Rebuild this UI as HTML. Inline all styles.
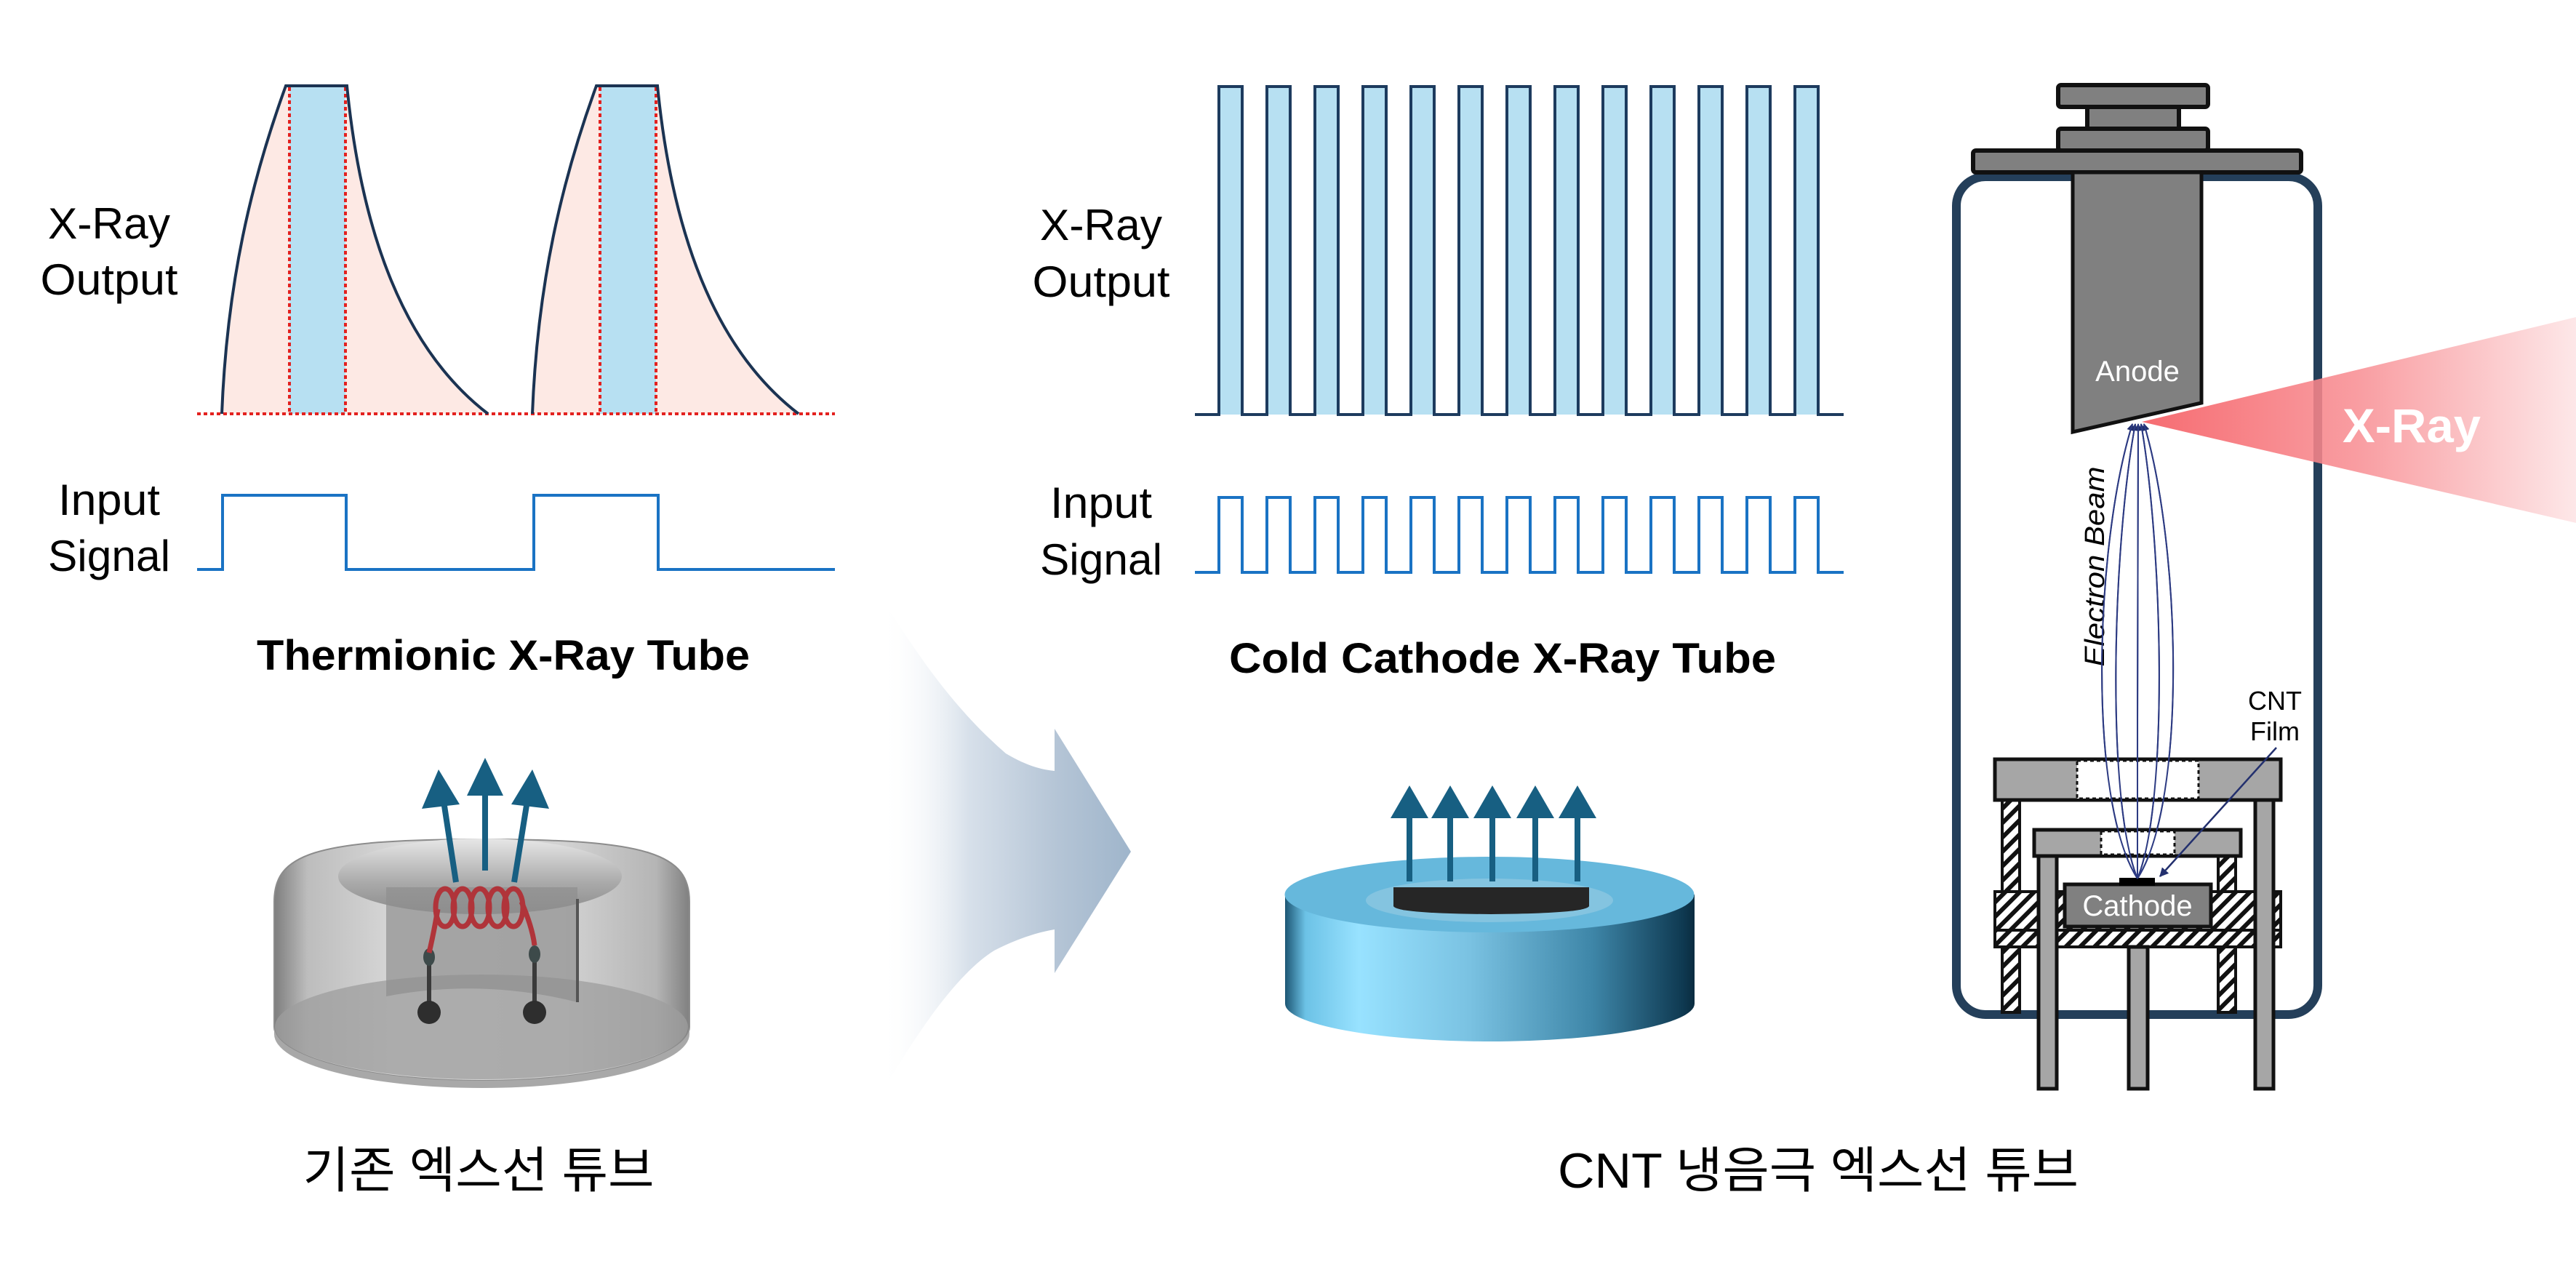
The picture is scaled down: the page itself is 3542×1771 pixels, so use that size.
<!DOCTYPE html>
<html><head><meta charset="utf-8">
<style>
html,body{margin:0;padding:0;background:#fff;}
svg{display:block;}
text{font-family:"Liberation Sans","Noto Sans CJK KR",sans-serif;}
</style></head>
<body>
<svg width="3542" height="1771" viewBox="0 0 3542 1771" xmlns="http://www.w3.org/2000/svg">
<defs>
  <linearGradient id="chev" x1="1212" y1="0" x2="1555" y2="0" gradientUnits="userSpaceOnUse">
    <stop offset="0" stop-color="#ffffff" stop-opacity="0"/>
    <stop offset="0.35" stop-color="#d7e0ea"/>
    <stop offset="0.7" stop-color="#b5c5d6"/>
    <stop offset="1" stop-color="#9fb5cb"/>
  </linearGradient>
  <linearGradient id="disk" x1="1767" y1="0" x2="2330" y2="0" gradientUnits="userSpaceOnUse">
    <stop offset="0" stop-color="#1d5674"/>
    <stop offset="0.05" stop-color="#6cc2e6"/>
    <stop offset="0.18" stop-color="#98e2ff"/>
    <stop offset="0.45" stop-color="#7ac2e2"/>
    <stop offset="0.75" stop-color="#3e86a8"/>
    <stop offset="0.97" stop-color="#0f3a52"/>
    <stop offset="1" stop-color="#0a2c40"/>
  </linearGradient>
  <linearGradient id="xray" x1="2945" y1="0" x2="3542" y2="0" gradientUnits="userSpaceOnUse">
    <stop offset="0" stop-color="#f5585e"/>
    <stop offset="0.5" stop-color="#f89095"/>
    <stop offset="1" stop-color="#fde4e5"/>
  </linearGradient>
  <linearGradient id="glass" x1="377" y1="0" x2="948" y2="0" gradientUnits="userSpaceOnUse">
    <stop offset="0" stop-color="#7e7e7e"/>
    <stop offset="0.08" stop-color="#bdbdbd"/>
    <stop offset="0.3" stop-color="#d8d8d8"/>
    <stop offset="0.7" stop-color="#d2d2d2"/>
    <stop offset="0.92" stop-color="#b5b5b5"/>
    <stop offset="1" stop-color="#808080"/>
  </linearGradient>
  <linearGradient id="opening" x1="0" y1="1154" x2="0" y2="1257" gradientUnits="userSpaceOnUse">
    <stop offset="0" stop-color="#e6e6e6"/>
    <stop offset="0.6" stop-color="#a8a8a8"/>
    <stop offset="1" stop-color="#8c8c8c"/>
  </linearGradient>
  <pattern id="hatch" width="14" height="14" patternUnits="userSpaceOnUse" patternTransform="rotate(45)">
    <rect width="14" height="14" fill="#fff"/>
    <rect width="6" height="14" fill="#111"/>
  </pattern>
  <marker id="ah" viewBox="0 0 10 10" refX="9" refY="5" markerWidth="5" markerHeight="5" orient="auto">
    <path d="M0,0 L10,5 L0,10 z" fill="#23306e"/>
  </marker>
</defs>

<!-- LEFT CHART -->
<g>
  <path d="M305,569 C312,390 345,250 393,118 L477,118 C497,320 555,480 671,569 Z" fill="#fde9e4"/>
  <rect x="398" y="118" width="77" height="451" fill="#b7e0f2"/>
  <path d="M732,569 C739,390 772,250 820,118 L904,118 C924,320 982,480 1098,569 Z" fill="#fde9e4"/>
  <rect x="825" y="118" width="77" height="451" fill="#b7e0f2"/>
  <g stroke="#e3211f" stroke-width="4" stroke-dasharray="5,4" fill="none">
    <line x1="271" y1="569" x2="1148" y2="569"/>
    <line x1="398" y1="120" x2="398" y2="569"/>
    <line x1="475" y1="120" x2="475" y2="569"/>
    <line x1="825" y1="120" x2="825" y2="569"/>
    <line x1="902" y1="120" x2="902" y2="569"/>
  </g>
  <path d="M305,569 C312,390 345,250 393,118 L477,118 C497,320 555,480 671,569" fill="none" stroke="#1b3352" stroke-width="4"/>
  <path d="M732,569 C739,390 772,250 820,118 L904,118 C924,320 982,480 1098,569" fill="none" stroke="#1b3352" stroke-width="4"/>
  <path d="M271,783 H306 V681 H476 V783 H734 V681 H905 V783 H1148" fill="none" stroke="#1a73c4" stroke-width="4"/>
  <text x="150" y="328" font-size="60" text-anchor="middle" textLength="168" lengthAdjust="spacingAndGlyphs">X-Ray</text>
  <text x="150" y="405" font-size="60" text-anchor="middle" textLength="189" lengthAdjust="spacingAndGlyphs">Output</text>
  <text x="150" y="708" font-size="60" text-anchor="middle" textLength="140" lengthAdjust="spacingAndGlyphs">Input</text>
  <text x="150" y="785" font-size="60" text-anchor="middle" textLength="168" lengthAdjust="spacingAndGlyphs">Signal</text>
  <text x="692" y="921" font-size="58" font-weight="bold" text-anchor="middle" textLength="678" lengthAdjust="spacingAndGlyphs">Thermionic X-Ray Tube</text>
</g>

<!-- MIDDLE CHART -->
<g>
  <path fill="#b7e0f2" stroke="#1d3b5e" stroke-width="4" d="M1643,570 H1676 V119 H1708 V570 H1742 V119 H1774 V570 H1808 V119 H1840 V570 H1874 V119 H1906 V570 H1940 V119 H1972 V570 H2006 V119 H2038 V570 H2072 V119 H2104 V570 H2138 V119 H2170 V570 H2204 V119 H2236 V570 H2270 V119 H2302 V570 H2336 V119 H2368 V570 H2402 V119 H2434 V570 H2468 V119 H2500 V570 H2535"/>
  <path fill="none" stroke="#1a73c4" stroke-width="4" d="M1643,787 H1676 V684 H1708 V787 H1742 V684 H1774 V787 H1808 V684 H1840 V787 H1874 V684 H1906 V787 H1940 V684 H1972 V787 H2006 V684 H2038 V787 H2072 V684 H2104 V787 H2138 V684 H2170 V787 H2204 V684 H2236 V787 H2270 V684 H2302 V787 H2336 V684 H2368 V787 H2402 V684 H2434 V787 H2468 V684 H2500 V787 H2535"/>
  <text x="1514" y="330" font-size="60" text-anchor="middle" textLength="168" lengthAdjust="spacingAndGlyphs">X-Ray</text>
  <text x="1514" y="408" font-size="60" text-anchor="middle" textLength="189" lengthAdjust="spacingAndGlyphs">Output</text>
  <text x="1514" y="712" font-size="60" text-anchor="middle" textLength="140" lengthAdjust="spacingAndGlyphs">Input</text>
  <text x="1514" y="790" font-size="60" text-anchor="middle" textLength="168" lengthAdjust="spacingAndGlyphs">Signal</text>
  <text x="2066" y="925" font-size="58" font-weight="bold" text-anchor="middle" textLength="752" lengthAdjust="spacingAndGlyphs">Cold Cathode X-Ray Tube</text>
</g>

<!-- CHEVRON -->
<path d="M1212,823 C1250,880 1300,964 1383,1036 C1410,1052 1430,1058 1450,1060 L1450,1002 L1555,1171 L1450,1338 L1450,1278 C1420,1283 1390,1295 1367,1307 C1330,1330 1283,1384 1223,1485 Z" fill="url(#chev)"/>

<!-- THERMIONIC DEVICE -->
<g>
  <path d="M377,1412 V1240 C377,1175 430,1154 662,1154 C895,1154 948,1175 948,1240 V1412 A285.5,74 0 0 1 377,1412 Z" fill="url(#glass)" stroke="#8c8c8c" stroke-width="2"/>
  <ellipse cx="662" cy="1412" rx="284" ry="72" fill="#9e9e9e" opacity="0.75"/>
  <path d="M377,1412 A285.5,74 0 0 0 948,1412 V1422 A285.5,74 0 0 1 377,1422 Z" fill="#a8a8a8"/>
  <ellipse cx="660" cy="1205" rx="195" ry="52" fill="url(#opening)"/>
  <path d="M531,1220 H794 V1378 Q662,1345 531,1370 Z" fill="#8e8e8e" opacity="0.7"/>
  <line x1="794" y1="1236" x2="794" y2="1378" stroke="#555" stroke-width="4"/>
  <g stroke="#3a3a3a" stroke-width="6">
    <line x1="590" y1="1316" x2="590" y2="1388"/>
    <line x1="735" y1="1316" x2="735" y2="1388"/>
  </g>
  <ellipse cx="590" cy="1316" rx="8" ry="12" fill="#3d4a4a"/>
  <ellipse cx="735" cy="1312" rx="8" ry="12" fill="#3d4a4a"/>
  <circle cx="590" cy="1392" r="16" fill="#2e2e2e"/>
  <circle cx="735" cy="1392" r="16" fill="#2e2e2e"/>
  <g fill="none" stroke="#b0343a" stroke-width="7">
    <path d="M602,1250 Q596,1285 590,1310"/>
    <path d="M717,1240 Q732,1275 735,1300"/>
    <ellipse cx="612" cy="1248" rx="13" ry="26"/>
    <ellipse cx="636" cy="1248" rx="13" ry="26"/>
    <ellipse cx="660" cy="1248" rx="13" ry="26"/>
    <ellipse cx="684" cy="1248" rx="13" ry="26"/>
    <ellipse cx="706" cy="1248" rx="13" ry="26"/>
  </g>
  <g fill="#175f82" stroke="#175f82">
    <line x1="627" y1="1213" x2="609" y2="1095" stroke-width="8"/>
    <polygon points="603,1058 580,1112 632,1106" stroke="none"/>
    <line x1="667" y1="1197" x2="667" y2="1085" stroke-width="8"/>
    <polygon points="667,1042 642,1094 692,1094" stroke="none"/>
    <line x1="707" y1="1213" x2="726" y2="1095" stroke-width="8"/>
    <polygon points="732,1058 703,1106 755,1112" stroke="none"/>
  </g>
</g>

<!-- CNT DISK -->
<g>
  <path d="M1767,1230 V1380 A281.5,52 0 0 0 2330,1380 V1230 Z" fill="url(#disk)"/>
  <ellipse cx="2048" cy="1230" rx="281.5" ry="52" fill="#66b8dc"/>
  <ellipse cx="2048" cy="1238" rx="170" ry="30" fill="#84c4e0"/>
  <path d="M1916,1220 H2185 V1246 Q2180,1256 2050,1257 Q1920,1256 1916,1246 Z" fill="#262626"/>
  <g fill="#175f82">
    <rect x="1934" y="1120" width="8" height="92"/><polygon points="1938,1080 1912,1125 1964,1125"/>
    <rect x="1990" y="1120" width="8" height="92"/><polygon points="1994,1080 1968,1125 2020,1125"/>
    <rect x="2048" y="1120" width="8" height="92"/><polygon points="2052,1080 2026,1125 2078,1125"/>
    <rect x="2107" y="1120" width="8" height="92"/><polygon points="2111,1080 2085,1125 2137,1125"/>
    <rect x="2165" y="1120" width="8" height="92"/><polygon points="2169,1080 2143,1125 2195,1125"/>
  </g>
</g>

<!-- TUBE -->
<g>
  <rect x="2690" y="243" width="497" height="1152" rx="40" fill="#fff" stroke="#243f5a" stroke-width="12"/>
  <g fill="#808080" stroke="#111" stroke-width="6">
    <rect x="2830" y="117" width="206" height="30" rx="4"/>
    <rect x="2870" y="147" width="126" height="30"/>
    <rect x="2830" y="177" width="206" height="30" rx="4"/>
    <rect x="2713" y="207" width="451" height="30" rx="4"/>
  </g>
  <path d="M2850,237 H3027 V554 L2850,594 Z" fill="#808080" stroke="#111" stroke-width="5"/>
  <text x="2939" y="524" font-size="40" fill="#fff" text-anchor="middle">Anode</text>

  <g fill="none" stroke="#2c3a82" stroke-width="2" marker-end="url(#ah)">
    <path d="M2939,1208 C2870,1100 2880,750 2932,583"/>
    <path d="M2939,1208 C2895,1100 2905,750 2936,583"/>
    <path d="M2939,1208 C2939,1000 2939,750 2940,583"/>
    <path d="M2939,1208 C2983,1100 2973,750 2944,583"/>
    <path d="M2939,1208 C3008,1100 2998,750 2948,583"/>
  </g>
  <text transform="translate(2893,779) rotate(-90)" font-size="38" font-style="italic" text-anchor="middle" textLength="275" lengthAdjust="spacingAndGlyphs">Electron Beam</text>

  <rect x="2753" y="1100" width="24" height="292" fill="url(#hatch)" stroke="#111" stroke-width="4"/>
  <rect x="3050" y="1177" width="24" height="215" fill="url(#hatch)" stroke="#111" stroke-width="4"/>
  <rect x="2743" y="1226" width="393" height="53" fill="url(#hatch)" stroke="#111" stroke-width="4"/>
  <rect x="2743" y="1279" width="393" height="23" fill="url(#hatch)" stroke="#111" stroke-width="4"/>
  <g fill="#a6a6a6" stroke="#111" stroke-width="5">
    <rect x="2803" y="1177" width="25" height="320"/>
    <rect x="2927" y="1302" width="26" height="195"/>
    <rect x="3101" y="1100" width="25" height="397"/>
    <rect x="2743" y="1044" width="393" height="56"/>
    <rect x="2797" y="1141" width="284" height="36"/>
  </g>
  <rect x="2856" y="1046" width="167" height="52" fill="#fff" stroke="#111" stroke-width="3" stroke-dasharray="5,4"/>
  <rect x="2889" y="1143" width="101" height="32" fill="#fff" stroke="#111" stroke-width="3" stroke-dasharray="5,4"/>
  <rect x="2839" y="1216" width="201" height="58" fill="#808080" stroke="#111" stroke-width="5"/>
  <text x="2939" y="1259" font-size="40" fill="#fff" text-anchor="middle">Cathode</text>
  <rect x="2914" y="1207" width="49" height="11" fill="#000"/>
  <g fill="none" stroke="#2c3a82" stroke-width="2">
    <path d="M2939,1208 C2870,1100 2880,750 2932,583"/>
    <path d="M2939,1208 C2895,1100 2905,750 2936,583"/>
    <path d="M2939,1208 C2939,1000 2939,750 2940,583"/>
    <path d="M2939,1208 C2983,1100 2973,750 2944,583"/>
    <path d="M2939,1208 C3008,1100 2998,750 2948,583"/>
  </g>
  <text x="3128" y="976" font-size="36" text-anchor="middle">CNT</text>
  <text x="3128" y="1018" font-size="36" text-anchor="middle">Film</text>
  <line x1="3130" y1="1028" x2="2970" y2="1205" stroke="#23306e" stroke-width="2.5" marker-end="url(#ah)"/>

  <polygon points="2945,580 3542,436 3542,719" fill="url(#xray)" opacity="0.88"/>
  <text x="3316" y="608" font-size="66" font-weight="bold" fill="#fff" text-anchor="middle" textLength="190" lengthAdjust="spacingAndGlyphs">X-Ray</text>
</g>

<!-- BOTTOM LABELS -->
<text x="658" y="1633" font-size="68" text-anchor="middle" textLength="483" lengthAdjust="spacingAndGlyphs">기존 엑스선 튜브</text>
<text x="2500" y="1633" font-size="68" text-anchor="middle" textLength="716" lengthAdjust="spacingAndGlyphs">CNT 냉음극 엑스선 튜브</text>
</svg>
</body></html>
